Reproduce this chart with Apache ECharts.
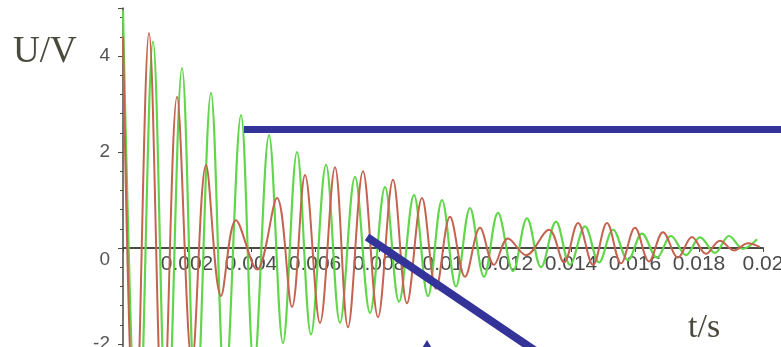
<!DOCTYPE html>
<html><head><meta charset="utf-8">
<script src="https://cdn.jsdelivr.net/npm/echarts@6/dist/echarts.min.js"></script>
<style>html,body{margin:0;padding:0;background:#fff}#c{width:781px;height:347px}</style>
</head><body><div id="c"></div>
<script>
// green trace: extrema times (s) and voltages (V)
const greenT = [0,0.000469,0.000938,0.001375,0.001844,0.002281,0.00275,0.003188,0.003688,0.004094,0.004563,0.005,0.005438,0.005875,0.006344,0.006781,0.00725,0.007719,0.008188,0.008625,0.009094,0.009531,0.009969,0.010406,0.010844,0.011281,0.011719,0.012188,0.012625,0.013063,0.013531,0.013969,0.014438,0.014875,0.015313,0.015781,0.016219,0.016688,0.017125,0.017594,0.018031,0.0185,0.018938,0.019375,0.019813];
const greenU = [4.95,-4.6,4.3,-4.05,3.75,-3.5,3.23,-3.0,2.77,-2.5,2.35,-1.98,2.0,-1.8,1.73,-1.56,1.48,-1.35,1.27,-1.12,1.1,-1.0,1.0,-0.8,0.83,-0.6,0.73,-0.48,0.62,-0.4,0.55,-0.35,0.45,-0.3,0.38,-0.25,0.3,-0.2,0.25,-0.15,0.22,-0.1,0.25,-0.02,0.18];
// red trace
const redT = [0,0.000375,0.000813,0.00125,0.001688,0.002156,0.002594,0.003063,0.003531,0.004188,0.004813,0.005281,0.005688,0.006156,0.006625,0.007031,0.0075,0.007969,0.008438,0.008875,0.009344,0.009781,0.010219,0.010688,0.011156,0.011594,0.012031,0.012594,0.013313,0.013781,0.014219,0.014688,0.015125,0.015563,0.016,0.016438,0.016875,0.017344,0.017781,0.018219,0.018656,0.019094,0.019531,0.019906];
const redU = [4.4,-4.3,4.48,-3.8,3.15,-2.4,1.73,-1.0,0.58,-0.45,1.04,-1.23,1.52,-1.56,1.68,-1.65,1.6,-1.44,1.42,-1.15,1.04,-0.85,0.65,-0.6,0.42,-0.35,0.2,-0.15,0.38,-0.3,0.52,-0.35,0.52,-0.32,0.42,-0.28,0.33,-0.2,0.23,-0.12,0.15,-0.05,0.1,0.02];
// tick labels
const xTickLabels = ['0.002','0.004','0.006','0.008','0.01','0.012','0.014','0.016','0.018','0.02'];
const yTickLabels = {'-2':'-2','0':'0','2':'2','4':'4'};

const chart = echarts.init(document.getElementById('c'), null, {renderer:'canvas'});
const zip = (a,b) => a.map((v,i)=>[v,b[i]]);
chart.setOption({
  animation:false,
  backgroundColor:'#fff',
  grid:{left:123, top:8, width:640, height:528, containLabel:false, outerBoundsMode:'none'},
  xAxis:{
    type:'value', min:0, max:0.02, interval:0.002, position:'bottom', offset:-288,
    axisLine:{onZero:false, lineStyle:{color:'#4a4a40', width:2}},
    axisTick:{show:true, length:4, lineStyle:{color:'#4a4a40'}},
    splitLine:{show:false},
    axisLabel:{
      margin:6, fontSize:21, fontFamily:'Liberation Sans', color:'#4a4a4a', hideOverlap:false,
      formatter:v=>{const k=Math.round(v/0.002); return k>=1 && k<=xTickLabels.length ? xTickLabels[k-1] : '';}
    }
  },
  yAxis:{
    type:'value', min:-6, max:5, interval:2,
    axisLine:{onZero:false, lineStyle:{color:'#4a4a40', width:1.5}},
    axisTick:{show:true, length:5, lineStyle:{color:'#4a4a40'}},
    minorTick:{show:true, splitNumber:5, length:3, lineStyle:{color:'#4a4a40'}},
    splitLine:{show:false},
    axisLabel:{
      margin:13, fontSize:19, fontFamily:'Liberation Sans', color:'#555', showMaxLabel:false,
      formatter:v=>{const s=yTickLabels[String(v)]; if(s===undefined) return ''; return v===0?'{z|'+s+'}':s;},
      rich:{z:{fontSize:19, fontFamily:'Liberation Sans', color:'#555', padding:[24,0,0,0]}}
    }
  },
  series:[
    {type:'line', data:zip(greenT,greenU), showSymbol:false, smooth:0.36, lineStyle:{color:'#62d64a', width:2.2}, z:2},
    {type:'line', data:zip(redT,redU), showSymbol:false, smooth:0.36, lineStyle:{color:'#c4634f', width:2}, z:3}
  ],
  graphic:[
    {type:'text', left:13, top:34, style:{text:'U/V', font:'37px "Liberation Serif"', fill:'#4a4a3c'}, z:10},
    {type:'text', left:688, top:311, style:{text:'t/s', font:'34px "Liberation Serif"', fill:'#4a4a3c'}, z:10},
    {type:'line', shape:{x1:244, y1:129.5, x2:781, y2:129.5}, style:{stroke:'#333399', lineWidth:7}, z:20},
    {type:'line', shape:{x1:367, y1:237, x2:540, y2:354}, style:{stroke:'#333399', lineWidth:8}, z:20},
    {type:'polygon', shape:{points:[[427,340],[421,350],[433,350]]}, style:{fill:'#333399'}, z:20}
  ]
});
</script></body></html>
